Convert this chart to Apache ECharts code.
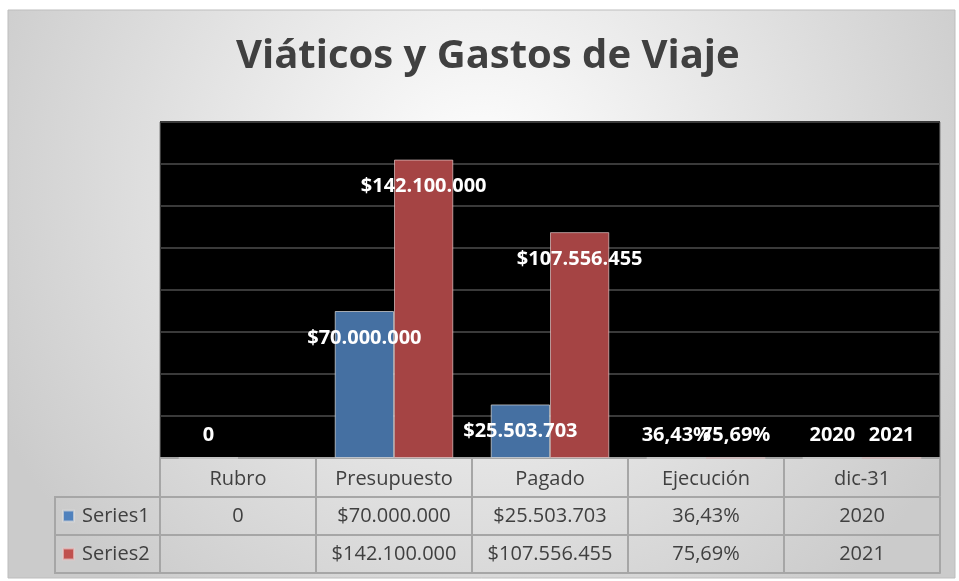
<!DOCTYPE html>
<html>
<head>
<meta charset="utf-8">
<script src="https://cdn.jsdelivr.net/npm/echarts@6/dist/echarts.min.js"></script>
<style>
  html, body { margin: 0; padding: 0; background: #ffffff; }
  #chart { width: 959px; height: 581px; }
</style>
</head>
<body>
<div id="chart"></div>
<script>
// ---- data ----
var categories = ['Rubro', 'Presupuesto', 'Pagado', 'Ejecución', 'dic-31'];
var categoryFormats = ['plain', 'currency', 'currency', 'percent', 'plain'];
var seriesNames = ['Series1', 'Series2'];
var series1Values = [0, 70000000, 25503703, 0.3643, 2020];
var series2Values = [null, 142100000, 107556455, 0.7569, 2021];
var yMin = 0, yMax = 160000000, yInterval = 20000000;
var titleText = 'Viáticos y Gastos de Viaje';

// ---- formatting ----
function fmt(v, idx) {
  if (v === null || v === undefined) return '';
  var t = categoryFormats[idx];
  if (t === 'currency') {
    return '$' + String(Math.round(v)).replace(/\B(?=(\d{3})+(?!\d))/g, '.');
  }
  if (t === 'percent') {
    return (v * 100).toFixed(2).replace('.', ',') + '%';
  }
  return String(v);
}

var FONT = '"Open Sans", "Noto Sans", sans-serif';
var TXT = '#404040';
var LINE = '#a6a6a6';
var BLUE = '#4570A2';
var RED = '#A54444';

function barData(vals) {
  return vals.map(function (v, i) {
    if (v === null) return { value: null };
    var small = v < (yMax - yMin) * 0.1;
    return {
      value: v,
      label: {
        position: small ? 'insideBottom' : 'insideTop',
        distance: small ? 13 : 17
      }
    };
  });
}

var labelCfg = {
  show: true,
  color: '#ffffff',
  fontFamily: FONT,
  fontWeight: 'bold',
  fontSize: 20,
  formatter: function (p) { return fmt(p.value, p.dataIndex); }
};

function tableAxis(offset, formatter, showLabels, showTicks) {
  return {
    type: 'category',
    data: categories,
    gridIndex: 0,
    position: 'bottom',
    offset: offset,
    boundaryGap: true,
    axisLine: { show: true, lineStyle: { color: LINE, width: 2 } },
    axisTick: { show: showTicks, interval: 0, length: 38, inside: false, lineStyle: { color: LINE, width: 2 } },
    axisLabel: {
      show: showLabels, interval: 0, margin: 9,
      color: TXT, fontFamily: FONT, fontSize: 20,
      formatter: formatter
    },
    splitLine: { show: false }
  };
}

var chart = echarts.init(document.getElementById('chart'), null, { renderer: 'canvas' });

var option = {
  animation: false,
  backgroundColor: '#ffffff',
  title: {
    text: titleText,
    left: 236,
    top: 37,
    padding: 0,
    textStyle: { fontFamily: FONT, fontWeight: 'bold', fontSize: 40, color: TXT }
  },
  legend: {
    orient: 'vertical',
    left: 62,
    top: 506,
    padding: 0,
    itemWidth: 11,
    itemHeight: 11,
    itemGap: 18,
    icon: 'rect',
    selectedMode: false,
    textStyle: { fontFamily: FONT, fontSize: 20, color: TXT, padding: [0, 0, 0, 3] },
    data: [
      { name: seriesNames[0], itemStyle: { color: '#4F81BD' } },
      { name: seriesNames[1], itemStyle: { color: '#C0504D' } }
    ]
  },
  grid: {
    left: 160, right: 19, top: 122, bottom: 123,
    show: true, backgroundColor: '#000000', borderColor: '#7f7f7f', borderWidth: 1,
    containLabel: false
  },
  xAxis: [
    tableAxis(2, function (v) { return v; }, true, true),
    tableAxis(39, function (v, i) { return fmt(series1Values[i], i); }, true, true),
    tableAxis(77, function (v, i) { return fmt(series2Values[i], i); }, true, true),
    tableAxis(115, function () { return ''; }, false, false)
  ],
  yAxis: {
    type: 'value',
    min: yMin, max: yMax, interval: yInterval,
    axisLabel: { show: false },
    axisLine: { show: false },
    axisTick: { show: false },
    splitLine: { show: true, lineStyle: { color: '#3a3a3a', width: 2 } }
  },
  graphic: [
    {
      type: 'rect', z: -10, silent: true,
      shape: { x: 8, y: 10, width: 947, height: 568 },
      style: {
        fill: {
          type: 'radial', x: 0.5, y: 0.3, r: 0.95,
          colorStops: [{ offset: 0, color: '#ffffff' }, { offset: 1, color: '#cbcbcb' }]
        },
        stroke: '#bdbdbd', lineWidth: 1
      }
    },
    { type: 'line', z: 5, silent: true, shape: { x1: 55, y1: 497, x2: 160, y2: 497 }, style: { stroke: LINE, lineWidth: 2 } },
    { type: 'line', z: 5, silent: true, shape: { x1: 55, y1: 535, x2: 160, y2: 535 }, style: { stroke: LINE, lineWidth: 2 } },
    { type: 'line', z: 5, silent: true, shape: { x1: 55, y1: 573, x2: 160, y2: 573 }, style: { stroke: LINE, lineWidth: 2 } },
    { type: 'line', z: 5, silent: true, shape: { x1: 55, y1: 496, x2: 55, y2: 574 }, style: { stroke: LINE, lineWidth: 2 } }
  ],
  series: [
    {
      name: seriesNames[0], type: 'bar', xAxisIndex: 0,
      data: barData(series1Values),
      barGap: '0%', barCategoryGap: '24%',
      itemStyle: { color: BLUE, borderColor: 'rgba(220,220,220,0.7)', borderWidth: 1 },
      label: labelCfg
    },
    {
      name: seriesNames[1], type: 'bar', xAxisIndex: 0,
      data: barData(series2Values),
      barGap: '0%', barCategoryGap: '24%',
      itemStyle: { color: RED, borderColor: 'rgba(230,200,200,0.7)', borderWidth: 1 },
      label: labelCfg
    }
  ]
};
chart.setOption(option);
</script>
</body>
</html>
